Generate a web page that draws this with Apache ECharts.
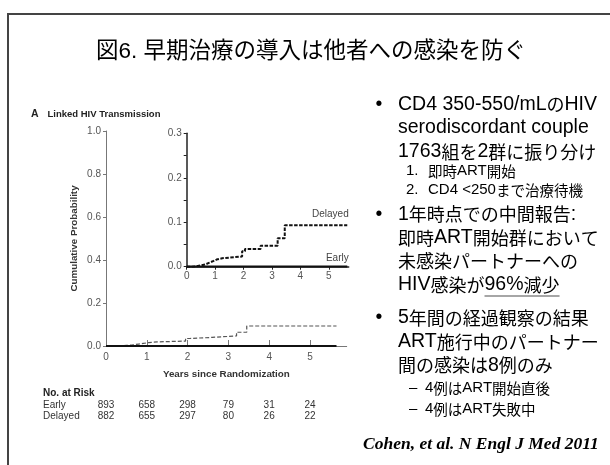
<!DOCTYPE html>
<html><head><meta charset="utf-8">
<script src="https://cdn.jsdelivr.net/npm/echarts@6/dist/echarts.min.js"></script>
<style>html,body{margin:0;padding:0;background:#fff}#c{width:610px;height:465px}</style>
</head><body><div id="c"></div>
<script>
// ---- data ----
const years = [0, 1, 2, 3, 4, 5];
const delayedT = [0, 0.2, 0.35, 0.5, 0.65, 0.8, 0.95, 1.05, 1.25, 1.95, 2.05, 2.6, 3.2, 3.45, 5.65];
const delayedP = [0, 0.001, 0.003, 0.005, 0.009, 0.013, 0.016, 0.019, 0.023, 0.035, 0.04, 0.047, 0.064, 0.093, 0.093];
const earlyT = [0, 5.65];
const earlyP = [0, 0];
const riskEarly = [893, 658, 298, 79, 31, 24];
const riskDelayed = [882, 655, 297, 80, 26, 22];
const insetYTicks = [0, 0.05, 0.1, 0.15, 0.2, 0.25, 0.3];
const insetYLabels = [0, 0.1, 0.2, 0.3];

const SANS = '"Liberation Sans", Arial, sans-serif';
const JP = '"Liberation Sans", Arial, "Noto Sans CJK JP"';
const CJK = '"Noto Sans CJK JP"';
const pairs = (t, p) => t.map((v, i) => [v, p[i]]);

const chart = echarts.init(document.getElementById('c'), null, {renderer: 'canvas'});

const axisTxt = {fontFamily: SANS, fontSize: 10, color: '#555'};

chart.setOption({
  animation: false,
  backgroundColor: '#fff',
  grid: [
    {left: 106, top: 131, width: 240.7, height: 215},
    {left: 186.7, top: 133.3, width: 162, height: 133.4}
  ],
  xAxis: [
    {type: 'value', gridIndex: 0, min: 0, max: 5.9,
     axisLine: {show: true, lineStyle: {color: '#777', width: 1}},
     axisTick: {show: true, inside: true, length: 6, customValues: years, lineStyle: {color: '#777'}},
     axisLabel: Object.assign({customValues: years, margin: 6}, axisTxt),
     splitLine: {show: false},
     name: 'Years since Randomization', nameLocation: 'middle', nameGap: 23,
     nameTextStyle: {fontFamily: SANS, fontSize: 9.8, fontWeight: 'bold', color: '#333'}},
    {type: 'value', gridIndex: 1, min: 0, max: 5.7,
     axisLine: {show: true, lineStyle: {color: '#222', width: 1.5}},
     axisTick: {show: true, length: 3, customValues: years, lineStyle: {color: '#222'}},
     axisLabel: Object.assign({customValues: years, margin: 5}, axisTxt),
     splitLine: {show: false}}
  ],
  yAxis: [
    {type: 'value', gridIndex: 0, min: 0, max: 1, interval: 0.2,
     axisLine: {show: true, lineStyle: {color: '#777', width: 1}},
     axisTick: {show: true, length: 3, lineStyle: {color: '#777'}},
     axisLabel: Object.assign({margin: 5, formatter: v => v.toFixed(1)}, axisTxt),
     splitLine: {show: false},
     name: 'Cumulative Probability', nameLocation: 'middle', nameGap: 27,
     nameTextStyle: {fontFamily: SANS, fontSize: 9.8, fontWeight: 'bold', color: '#333'}},
    {type: 'value', gridIndex: 1, min: 0, max: 0.3,
     axisLine: {show: true, lineStyle: {color: '#222', width: 1.5}},
     axisTick: {show: true, length: 3, customValues: insetYTicks, lineStyle: {color: '#222'}},
     axisLabel: Object.assign({margin: 5, customValues: insetYLabels, formatter: v => v.toFixed(1)}, axisTxt),
     splitLine: {show: false}}
  ],
  series: [
    {name: 'Delayed', type: 'line', xAxisIndex: 0, yAxisIndex: 0, step: 'end', symbol: 'none',
     data: pairs(delayedT, delayedP), lineStyle: {color: '#555', width: 1.2, type: [4, 2]}, z: 3},
    {name: 'Early', type: 'line', xAxisIndex: 0, yAxisIndex: 0, step: 'end', symbol: 'none',
     data: pairs(earlyT, earlyP), lineStyle: {color: '#111', width: 2}, z: 4},
    {name: 'Delayed', type: 'line', xAxisIndex: 1, yAxisIndex: 1, step: 'end', symbol: 'none',
     data: pairs(delayedT, delayedP), lineStyle: {color: '#111', width: 2, type: [3.5, 1.5]}, z: 3},
    {name: 'Early', type: 'line', xAxisIndex: 1, yAxisIndex: 1, step: 'end', symbol: 'none',
     data: pairs(earlyT, earlyP), lineStyle: {color: '#111', width: 2.2}, z: 4}
  ]
});

// ---- text overlays ----
const g = [];
function txt(x, y, text, size, opts) {
  opts = opts || {};
  g.push({type: 'text', x: x, y: y, z: 10, silent: true,
    style: {text: text, fontSize: size, fontFamily: opts.family || JP,
      fontWeight: opts.weight || 'normal', fontStyle: opts.style || 'normal',
      fill: opts.fill || '#000', align: opts.align || 'left', verticalAlign: 'middle'}});
}
// mixed Latin / CJK line: Latin at lsize, CJK at csize
const isCJK = ch => /[\u3000-\u30ff\u4e00-\u9fff\uff00-\uffef]/.test(ch);
function splitRuns(s) {
  const runs = [];
  for (const ch of s) {
    const c = isCJK(ch);
    if (runs.length && runs[runs.length - 1].c === c) runs[runs.length - 1].t += ch;
    else runs.push({c: c, t: ch});
  }
  return runs;
}
function mixed(x, y, s, lsize, csize) {
  const runs = splitRuns(s);
  const text = runs.map(r => '{' + (r.c ? 'c' : 'l') + '|' + r.t + '}').join('');
  g.push({type: 'text', x: x, y: y, z: 10, silent: true,
    style: {text: text, align: 'left', verticalAlign: 'middle', fill: '#000',
      rich: {
        l: {fontSize: lsize, fontFamily: SANS, fill: '#000', verticalAlign: 'middle'},
        c: {fontSize: csize, fontFamily: CJK, fill: '#000', verticalAlign: 'middle'}
      }}});
}
const mctx = document.createElement('canvas').getContext('2d');
function measureMixed(s, lsize, csize) {
  let w = 0;
  splitRuns(s).forEach(r => {
    mctx.font = (r.c ? csize + 'px ' + CJK : lsize + 'px ' + SANS);
    w += mctx.measureText(r.t).width;
  });
  return w;
}
// frame
g.push({type: 'line', shape: {x1: 8, y1: 14, x2: 610, y2: 14}, style: {stroke: '#444', lineWidth: 2}, silent: true});
g.push({type: 'line', shape: {x1: 8, y1: 13, x2: 8, y2: 465}, style: {stroke: '#444', lineWidth: 2}, silent: true});
// title
txt(311, 52, '図6. 早期治療の導入は他者への感染を防ぐ', 22.5, {align: 'center'});
// panel label
txt(31, 114, 'A', 10.5, {family: SANS, weight: 'bold', fill: '#222'});
txt(47.5, 114, 'Linked HIV Transmission', 9.5, {family: SANS, weight: 'bold', fill: '#222'});
// inset labels
const xEnd = chart.convertToPixel({xAxisIndex: 1}, 5.7);
txt(xEnd, chart.convertToPixel({yAxisIndex: 1}, 0.093) - 11, 'Delayed', 10, {family: SANS, align: 'right', fill: '#444'});
txt(xEnd, chart.convertToPixel({yAxisIndex: 1}, 0) - 8, 'Early', 10, {family: SANS, align: 'right', fill: '#444'});
// risk table
txt(43, 393, 'No. at Risk', 10, {family: SANS, weight: 'bold', fill: '#222'});
txt(43, 405.7, 'Early', 10, {family: SANS, fill: '#333'});
txt(43, 416.7, 'Delayed', 10, {family: SANS, fill: '#333'});
years.forEach((yr, i) => {
  const px = chart.convertToPixel({xAxisIndex: 0}, yr);
  txt(px, 405.7, String(riskEarly[i]), 10, {family: SANS, align: 'center', fill: '#333'});
  txt(px, 416.7, String(riskDelayed[i]), 10, {family: SANS, align: 'center', fill: '#333'});
});
// right bullets
const BL = 19.5, BC = 18, SL = 15, SC = 14.5;
const bullets = [
  {y: [104.5, 128, 151.7], lines: ['CD4 350-550/mLのHIV', 'serodiscordant couple', '1763組を2群に振り分け']},
  {y: [214.3, 237.7, 261, 285], lines: ['1年時点での中間報告:', '即時ART開始群において', '未感染パートナーへの', 'HIV感染が96%減少']},
  {y: [318, 342, 365.3], lines: ['5年間の経過観察の結果', 'ART施行中のパートナー', '間の感染は8例のみ']}
];
bullets.forEach(b => {
  txt(379, b.y[0], '•', BL, {family: SANS, align: 'center'});
  b.lines.forEach((l, i) => mixed(398, b.y[i], l, BL, BC));
});
txt(406, 171, '1.', SL, {family: SANS}); mixed(428, 171, '即時ART開始', SL, SC);
txt(406, 190, '2.', SL, {family: SANS}); mixed(428, 190, 'CD4 <250まで治療待機', SL, SC);
txt(409, 388.3, '–', SL, {family: SANS}); mixed(425, 388.3, '4例はART開始直後', SL, SC);
txt(409, 409.3, '–', SL, {family: SANS}); mixed(425, 409.3, '4例はART失敗中', SL, SC);
// underline under 96%減少
const u0 = 398 + measureMixed('HIV感染が', BL, BC);
const u1 = u0 + measureMixed('96%減少', BL, BC);
g.push({type: 'line', shape: {x1: u0, y1: 296, x2: u1, y2: 296}, style: {stroke: '#888', lineWidth: 1.5}, silent: true});
// citation
txt(363, 444, 'Cohen, et al. N Engl J Med 2011', 17.5, {family: '"Liberation Serif", "Times New Roman", serif', weight: 'bold', style: 'italic'});

chart.setOption({graphic: g});
</script></body></html>
